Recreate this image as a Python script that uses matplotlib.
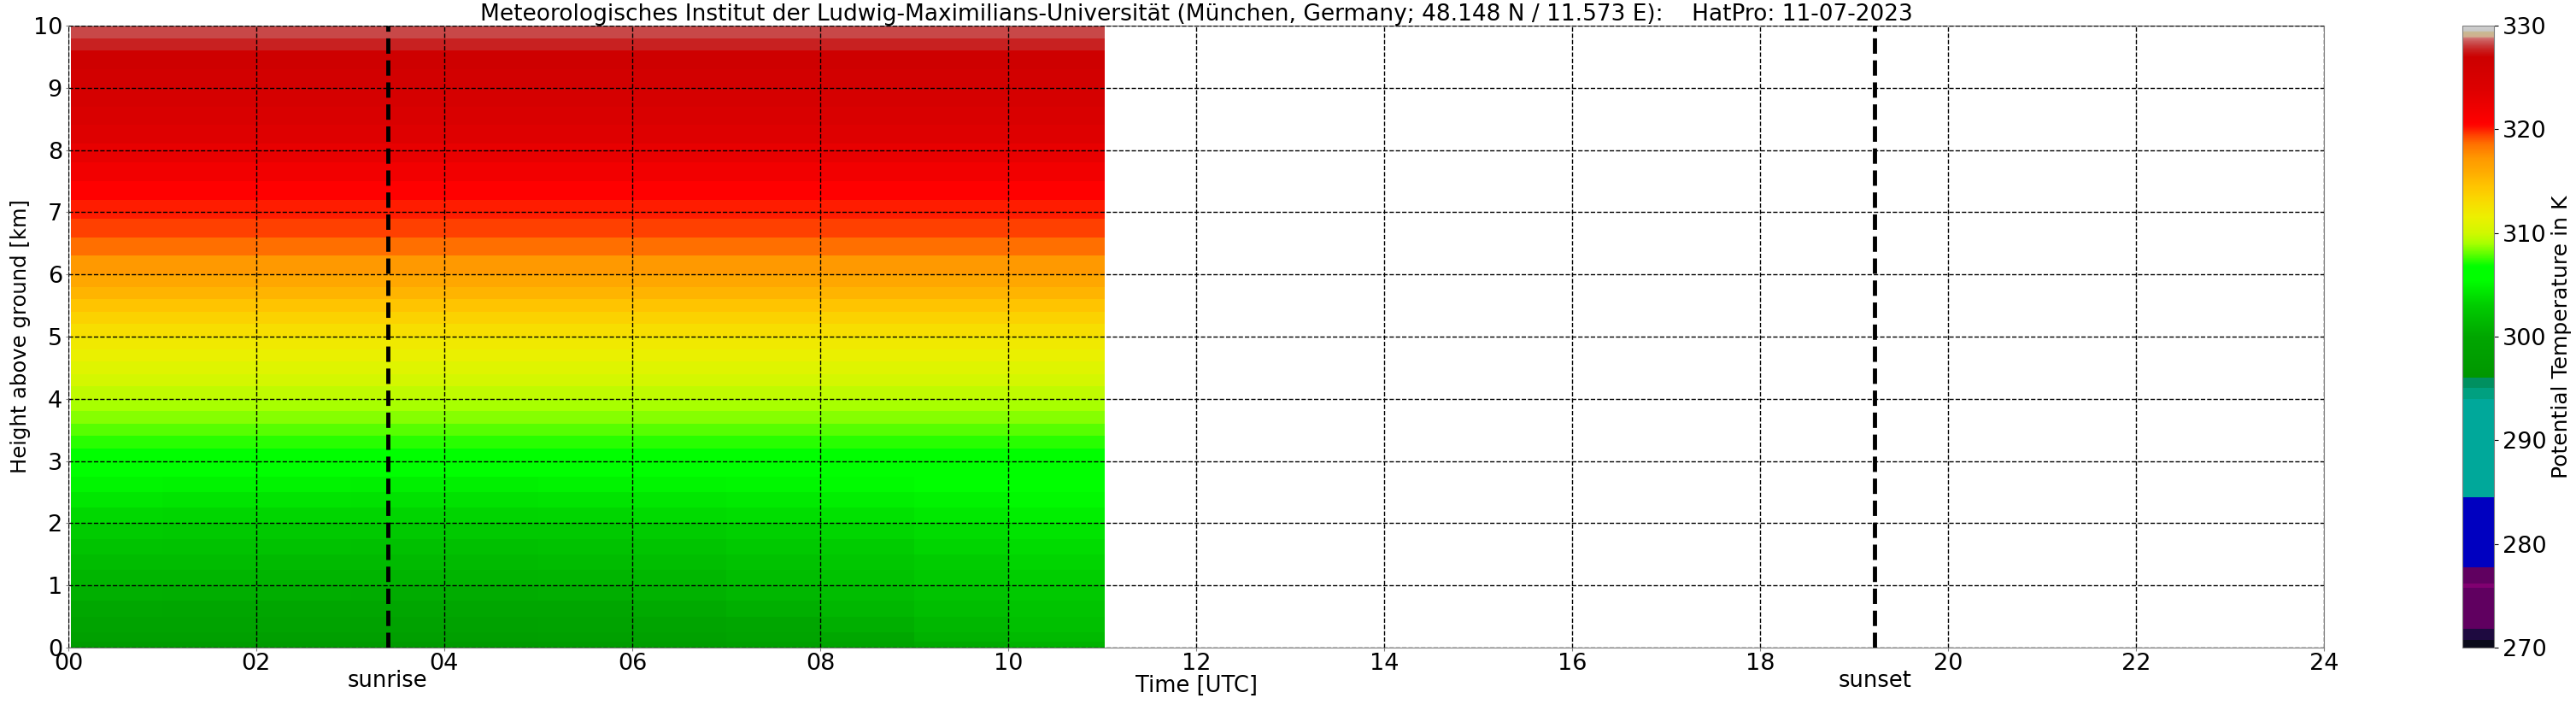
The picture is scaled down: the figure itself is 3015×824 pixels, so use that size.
import numpy as np
import matplotlib
matplotlib.use('Agg')
import matplotlib.pyplot as plt
from matplotlib.colors import LinearSegmentedColormap

# time cells (UTC hours), hourly means of the HatPro retrieval
time_edges = [0.03, 1, 2, 3, 4, 5, 6, 7, 8, 9, 10, 11.03]

# boundary layer (0-3 km): potential temperature [K], rows = height cells, cols = hours
low_edges = [0.0, 0.1, 0.25, 0.5, 0.75, 1.0, 1.25, 1.5, 1.75, 2.0, 2.25, 2.5, 2.75, 3.0]
theta_low = [
    [297.6, 297.5, 297.4, 297.3, 297.3, 297.4, 297.9, 298.6, 299.4, 300.3, 301.0],
    [298.5, 298.4, 298.3, 298.3, 298.3, 298.4, 298.8, 299.4, 300.1, 300.9, 301.6],
    [299.3, 299.2, 299.2, 299.1, 299.1, 299.2, 299.5, 300.0, 300.7, 301.4, 302.0],
    [300.1, 300.0, 300.0, 299.9, 299.9, 300.0, 300.3, 300.7, 301.3, 301.9, 302.4],
    [300.7, 300.6, 300.6, 300.5, 300.5, 300.6, 300.9, 301.3, 301.8, 302.3, 302.8],
    [301.2, 301.2, 301.1, 301.1, 301.1, 301.2, 301.4, 301.8, 302.2, 302.7, 303.1],
    [301.7, 301.7, 301.6, 301.6, 301.6, 301.7, 301.9, 302.2, 302.6, 303.0, 303.4],
    [302.3, 302.2, 302.2, 302.1, 302.1, 302.2, 302.4, 302.7, 303.0, 303.4, 303.8],
    [302.9, 302.8, 302.8, 302.7, 302.7, 302.8, 303.0, 303.2, 303.5, 303.8, 304.2],
    [303.6, 303.5, 303.5, 303.4, 303.4, 303.5, 303.7, 303.9, 304.1, 304.4, 304.7],
    [304.3, 304.2, 304.2, 304.1, 304.1, 304.2, 304.3, 304.5, 304.7, 304.9, 305.2],
    [305.0, 304.9, 304.9, 304.8, 304.8, 304.9, 305.0, 305.1, 305.3, 305.5, 305.7],
    [305.6, 305.6, 305.5, 305.5, 305.5, 305.5, 305.6, 305.7, 305.8, 306.0, 306.2],
]

# free troposphere (3-10 km): nearly constant in time
up_edges = [3.0, 3.2, 3.4, 3.6, 3.8, 4.0, 4.2, 4.4, 4.6, 4.8, 5.0, 5.2, 5.4, 5.6, 5.8,
            6.0, 6.3, 6.6, 6.9, 7.2, 7.5, 7.8, 8.1, 8.4, 8.7, 9.0, 9.3, 9.6, 9.8, 10.0]
theta_up = [306.5, 307.3, 307.9, 308.5, 309.0, 309.6, 310.2, 310.8, 311.4, 312.0,
            312.8, 313.6, 314.5, 315.4, 316.2, 317.2, 318.6, 319.5, 320.0, 320.6,
            321.8, 322.8, 323.8, 324.5, 325.2, 325.9, 326.6, 327.7, 328.3]

sunrise = 3.40
sunset = 19.22
title = ('Meteorologisches Institut der Ludwig-Maximilians-Universität '
         '(München, Germany; 48.148 N / 11.573 E):    HatPro: 11-07-2023')

# colour table of the plot (K -> colour)
cmap_nodes = [
    (270.0, '#0a0a1a'), (270.7, '#0a0a1a'), (270.7, '#1e0a40'), (271.8, '#1e0a40'),
    (271.8, '#600060'), (275.8, '#600060'), (275.8, '#800070'), (276.1, '#800070'),
    (276.1, '#600060'), (277.7, '#600060'), (277.7, '#0000c0'), (284.5, '#0000c0'),
    (284.5, '#00a89a'), (294.0, '#00a89a'), (294.0, '#00a080'), (295.0, '#00a080'),
    (295.0, '#009060'), (296.0, '#009060'), (296.0, '#009600'), (300.0, '#00a600'),
    (303.0, '#00cc00'), (305.5, '#00ff00'), (306.8, '#00ff00'), (308.0, '#60ff00'),
    (309.0, '#a8ff00'), (310.0, '#d0f800'), (311.5, '#ecf000'), (313.0, '#f8dc00'),
    (314.5, '#ffc400'), (316.0, '#ffaa00'), (317.2, '#ff9900'), (318.6, '#ff7000'),
    (319.5, '#ff4000'), (320.2, '#ff1000'), (320.6, '#ff0000'), (322.0, '#f00000'),
    (324.0, '#dc0000'), (327.0, '#cc0000'), (327.7, '#c82020'), (328.3, '#c84848'),
    (328.8, '#d07070'), (329.0, '#d0b090'), (329.4, '#c8b890'), (329.5, '#c8c8c8'),
    (330.0, '#d0d0d0'),
]
vmin, vmax = 270, 330
cmap = LinearSegmentedColormap.from_list(
    'theta', [((v - vmin) / (vmax - vmin), c) for v, c in cmap_nodes], N=1024)

fig = plt.figure(figsize=(30.15, 8.24), dpi=100)
ax = fig.add_axes([0.0265, 0.0801, 0.8757, 0.8835])
cax = fig.add_axes([0.9559, 0.0801, 0.0123, 0.8835])

n_t = len(time_edges) - 1
theta_up_grid = np.repeat(np.array(theta_up)[:, None], n_t, axis=1)
ax.pcolormesh(time_edges, low_edges, np.array(theta_low), cmap=cmap, vmin=vmin, vmax=vmax,
              shading='flat')
pm = ax.pcolormesh(time_edges, up_edges, theta_up_grid, cmap=cmap, vmin=vmin, vmax=vmax,
                   shading='flat')

ax.axvline(sunrise, color='black', linestyle='--', linewidth=3.5, zorder=5)
ax.axvline(sunset, color='black', linestyle='--', linewidth=3.5, zorder=5)
ax.text(sunrise, -0.053, 'sunrise', transform=ax.get_xaxis_transform(),
        ha='center', va='center', fontsize=18.5)
ax.text(sunset, -0.053, 'sunset', transform=ax.get_xaxis_transform(),
        ha='center', va='center', fontsize=18.5)

ax.set_xlim(0, 24)
ax.set_ylim(0, 10)
ax.set_xticks(range(0, 25, 2))
ax.set_xticklabels(['%02d' % h for h in range(0, 25, 2)])
ax.set_yticks(range(0, 11))
ax.tick_params(axis='x', labelsize=19.5, length=3, color='gray', pad=1.5)
ax.tick_params(axis='y', labelsize=19.5, length=2, color='gray', pad=3)
ax.grid(True, color='black', linestyle='--', linewidth=1)
ax.set_axisbelow(False)
for s in ax.spines.values():
    s.set_color('gray')

ax.set_xlabel('Time [UTC]', fontsize=18.5, labelpad=0)
ax.set_ylabel('Height above ground [km]', fontsize=17.5, labelpad=2)
ax.set_title(title, fontsize=19, pad=3)

cb = fig.colorbar(pm, cax=cax)
cb.set_ticks(range(270, 331, 10))
cb.ax.tick_params(labelsize=19.5)
cb.set_label('Potential Temperature in K', fontsize=18)
cb.outline.set_edgecolor('gray')

fig.savefig('out.png', dpi=100)
